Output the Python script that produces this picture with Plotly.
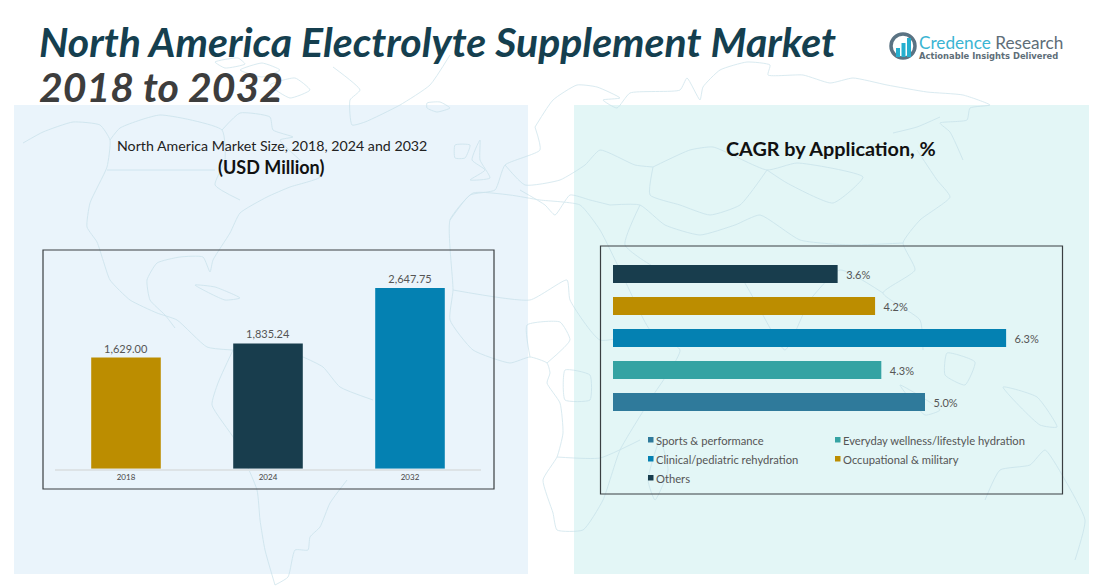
import plotly.graph_objects as go

WIDTH = 1111
HEIGHT = 586

years = ["2018", "2024", "2032"]
market_size = [1629.00, 1835.24, 2647.75]
market_labels = ["1,629.00", "1,835.24", "2,647.75"]
market_colors = ["#BC8D00", "#183D4D", "#0481B2"]

applications = [
    "Sports & performance",
    "Everyday wellness/lifestyle hydration",
    "Clinical/pediatric rehydration",
    "Occupational & military",
    "Others",
]
cagr = [5.0, 4.3, 6.3, 4.2, 3.6]
cagr_colors = ["#2F7A9B", "#35A3A3", "#0481B2", "#BC8D00", "#183D4D"]

BODY_FONT = "Lato"

# faint world map behind the panels, traced by eye in page pixels
map_lines = [
    # north america, west coast down to colombia
    [(23, 143), (43, 132), (73, 122), (100, 125), (110, 140), (107, 167), (90, 203), (87, 227), (97, 242),
     (103, 260), (110, 280), (130, 300), (157, 313), (177, 320), (207, 347), (233, 350)],
    # gulf and us east coast
    [(175, 328), (165, 315), (150, 300), (147, 280), (157, 263), (180, 257), (203, 257), (210, 272), (213, 260),
     (230, 233), (240, 213), (267, 197), (290, 187), (320, 177), (300, 160), (280, 140), (293, 137), (273, 130),
     (270, 117), (240, 113), (222, 130)],
    [(110, 140), (120, 128), (160, 115), (222, 130), (225, 160), (215, 185), (240, 200)],
    [(107, 170), (215, 170)],
    # arctic islands
    [(240, 70), (262, 63), (280, 70), (262, 77), (240, 70)],
    [(270, 85), (295, 78), (310, 90), (290, 98), (270, 85)],
    [(215, 62), (238, 58), (245, 64), (225, 68), (215, 62)],
    # greenland
    [(333, 67), (360, 90), (350, 100), (352, 125), (365, 122), (400, 105), (430, 85), (450, 55)],
    # iceland
    [(427, 103), (440, 102), (450, 108), (437, 112), (427, 108), (427, 103)],
    # caribbean
    [(195, 285), (215, 287), (240, 298), (225, 300), (195, 285)],
    # south america
    [(233, 350), (218, 383), (212, 405), (235, 440), (257, 490), (260, 520), (265, 550), (275, 585)],
    [(275, 585), (288, 577), (295, 550), (308, 550), (310, 537), (320, 527), (330, 503), (347, 480)],
    [(233, 350), (275, 348), (303, 357), (323, 367), (340, 387), (373, 400)],
    # uk and ireland
    [(480, 140), (472, 160), (485, 170), (470, 180), (490, 178), (480, 160), (480, 140)],
    [(455, 145), (470, 145), (465, 158), (455, 158), (455, 145)],
    # north coast of europe and asia
    [(535, 127), (553, 100), (577, 85), (597, 87), (620, 98), (603, 100), (617, 108), (630, 93), (680, 90), (687, 78),
     (700, 100), (703, 87), (720, 70), (747, 62), (770, 65), (768, 75), (803, 75), (830, 83), (853, 78), (887, 85),
     (927, 92), (963, 95), (990, 105), (970, 108), (967, 120), (940, 123), (950, 132), (963, 160)],
    [(893, 133), (917, 127), (940, 117)],
    [(917, 150), (937, 180), (950, 197), (920, 220), (903, 243), (915, 270), (883, 293), (920, 320), (923, 350)],
    # europe
    [(535, 127), (540, 150), (505, 165), (495, 190), (470, 195), (450, 220)],
    [(505, 165), (525, 185), (560, 180), (585, 165), (600, 150), (635, 165), (653, 167)],
    [(520, 190), (545, 205), (555, 215), (570, 195), (590, 200), (610, 205)],
    # central asia borders
    [(653, 167), (690, 150), (713, 147), (767, 170), (797, 163), (863, 177), (833, 203), (787, 183), (767, 170)],
    [(653, 167), (650, 195), (680, 205), (710, 215), (740, 205), (767, 170)],
    [(610, 205), (640, 205), (665, 225), (700, 235), (735, 225), (760, 215), (800, 240), (850, 245), (903, 243)],
    [(640, 205), (625, 245), (660, 270), (700, 275), (735, 270), (760, 310), (785, 350), (810, 300), (840, 270), (883, 293)],
    # africa
    [(450, 220), (473, 193), (510, 195), (540, 200), (580, 205), (600, 230), (620, 270), (650, 330), (680, 350),
     (650, 400), (620, 450), (603, 500), (583, 530), (557, 530), (553, 513), (543, 480), (557, 457), (563, 433),
     (560, 403), (547, 383), (550, 373), (547, 363), (530, 357), (510, 363), (473, 350), (450, 320), (453, 290), (450, 220)],
    [(453, 290), (530, 300), (567, 280), (570, 300), (600, 340), (650, 330)],
    [(530, 357), (527, 325), (560, 322), (570, 340), (547, 363)],
    [(565, 370), (590, 375), (590, 400), (565, 400), (565, 370)],
    [(557, 457), (600, 458), (640, 440)],
    [(660, 440), (668, 470), (655, 500), (648, 480), (660, 440)],
    # south east asia and australia
    [(947, 353), (975, 362), (965, 385), (945, 375), (947, 353)],
    [(900, 385), (940, 410), (925, 415), (900, 385)],
    [(1003, 387), (1037, 397), (1057, 427), (1040, 425), (1003, 387)],
    [(985, 500), (1000, 470), (1030, 465), (1045, 450), (1065, 480), (1085, 520), (1075, 560)],
]
map_x = []
map_y = []
for line in map_lines:
    map_x += [p[0] for p in line] + [None]
    map_y += [p[1] for p in line] + [None]


def px_domain(start, end, size):
    return [start / size, end / size]


fig = go.Figure()

fig.add_trace(go.Scatter(
    x=map_x, y=map_y, mode="lines", hoverinfo="skip", showlegend=False,
    line=dict(color="#BFDDE6", width=0.9, shape="spline", smoothing=0.5), opacity=0.65,
))

fig.add_trace(go.Bar(
    x=years, y=market_size, text=market_labels, textposition="outside", cliponaxis=False,
    textfont=dict(family=BODY_FONT, size=11, color="#555555"),
    marker=dict(color=market_colors, line=dict(width=0)),
    width=0.49, showlegend=False, xaxis="x2", yaxis="y2",
))

fig.add_trace(go.Bar(
    y=applications, x=cagr, orientation="h", text=[f"\u2002{v:.1f}%" for v in cagr],
    textposition="outside", cliponaxis=False,
    textfont=dict(family=BODY_FONT, size=11, color="#555555"),
    marker=dict(color=cagr_colors, line=dict(width=0)),
    width=0.5625, showlegend=False, xaxis="x3", yaxis="y3",
))

shapes = [
    dict(type="rect", x0=14, x1=528, y0=105, y1=574, fillcolor="#EAF4FB"),
    dict(type="rect", x0=574, x1=1089, y0=105, y1=574, fillcolor="#E3F6F6"),
]
for s in shapes:
    s.update(xref="x", yref="y", layer="below", line_width=0)

for x0, x1, y0, y1 in [(43, 494, 250, 489), (600.5, 1062.5, 246, 494)]:
    shapes.append(dict(type="rect", xref="x", yref="y", x0=x0, x1=x1, y0=y0, y1=y1,
                       line=dict(color="#3A3F42", width=1.2), fillcolor="rgba(0,0,0,0)"))

annotations = []


def add_text(x, y, text, size, color, anchor="center", family=BODY_FONT):
    annotations.append(dict(x=x, y=y, xref="x", yref="y", text=text, showarrow=False, xanchor=anchor,
                            yanchor="middle", font=dict(family=family, size=size, color=color)))


# titles
add_text(37, 41, "<b><i>North America Electrolyte Supplement Market</i></b>", 41, "#153F4F", "left")
add_text(37, 86, "<b><i>2018 to 2032</i></b>", 41, "#3D3D3D", "left")
add_text(272, 145, "North America Market Size, 2018, 2024 and 2032", 14.2, "#222222")
add_text(271, 167, "<b>(USD Million)</b>", 18, "#111111")
add_text(831, 148, "<b>CAGR by Application, %</b>", 19.8, "#111111")

# legend of the application chart
legend_cols = [648, 835, 648, 835, 648]
legend_rows = [440, 440, 459, 459, 478]
for name, color, lx, ly in zip(applications, cagr_colors, legend_cols, legend_rows):
    shapes.append(dict(type="rect", xref="x", yref="y", x0=lx, x1=lx + 5.5, y0=ly - 3, y1=ly + 2.5,
                       fillcolor=color, line_width=0))
    add_text(lx + 6, ly, name, 11.2, "#555555", "left")

# logo
shapes.append(dict(type="circle", xref="x", yref="y", x0=891, x1=915, y0=34, y1=58,
                   line=dict(color="#5B7383", width=3.5)))
for bx, by in [(896, 48), (901.5, 43), (907, 38)]:
    shapes.append(dict(type="rect", xref="x", yref="y", x0=bx, x1=bx + 4, y0=by, y1=57,
                       fillcolor="#25AFCF", line_width=0))
add_text(917, 42, "<span style='color:#3AB5D3'>Credence</span> Research", 17.2, "#5E6E78", "left")
add_text(917, 56, "<b>Actionable Insights Delivered</b>", 8.4, "#5E6E78", "left", "DejaVu Sans")

fig.update_layout(
    width=WIDTH,
    height=HEIGHT,
    autosize=False,
    margin=dict(l=0, r=0, t=0, b=0),
    paper_bgcolor="white",
    plot_bgcolor="rgba(0,0,0,0)",
    shapes=shapes,
    annotations=annotations,
    hovermode=False,
    xaxis=dict(range=[0, WIDTH], domain=[0, 1], visible=False, fixedrange=True),
    yaxis=dict(range=[HEIGHT, 0], domain=[0, 1], visible=False, fixedrange=True),
    xaxis2=dict(
        domain=px_domain(55, 481, WIDTH), anchor="y2", showgrid=False, ticks="",
        showline=True, linecolor="#DDE3E6", linewidth=1.5, zeroline=False,
        tickfont=dict(family=BODY_FONT, size=8, color="#444444"),
    ),
    yaxis2=dict(
        domain=[(HEIGHT - 468.7) / HEIGHT, (HEIGHT - 264) / HEIGHT], range=[0, 3000], anchor="x2",
        visible=False,
    ),
    xaxis3=dict(domain=px_domain(613, 1049.8, WIDTH), range=[0, 7], anchor="y3", visible=False),
    yaxis3=dict(
        domain=[(HEIGHT - 418) / HEIGHT, (HEIGHT - 258) / HEIGHT], anchor="x3", visible=False,
        categoryorder="array", categoryarray=applications,
    ),
)

# the page's default 8px body margin would push the fixed-size figure off position
fig.write_html("out.html", config={"displayModeBar": False},
               post_script="document.body.style.margin = '0';")
